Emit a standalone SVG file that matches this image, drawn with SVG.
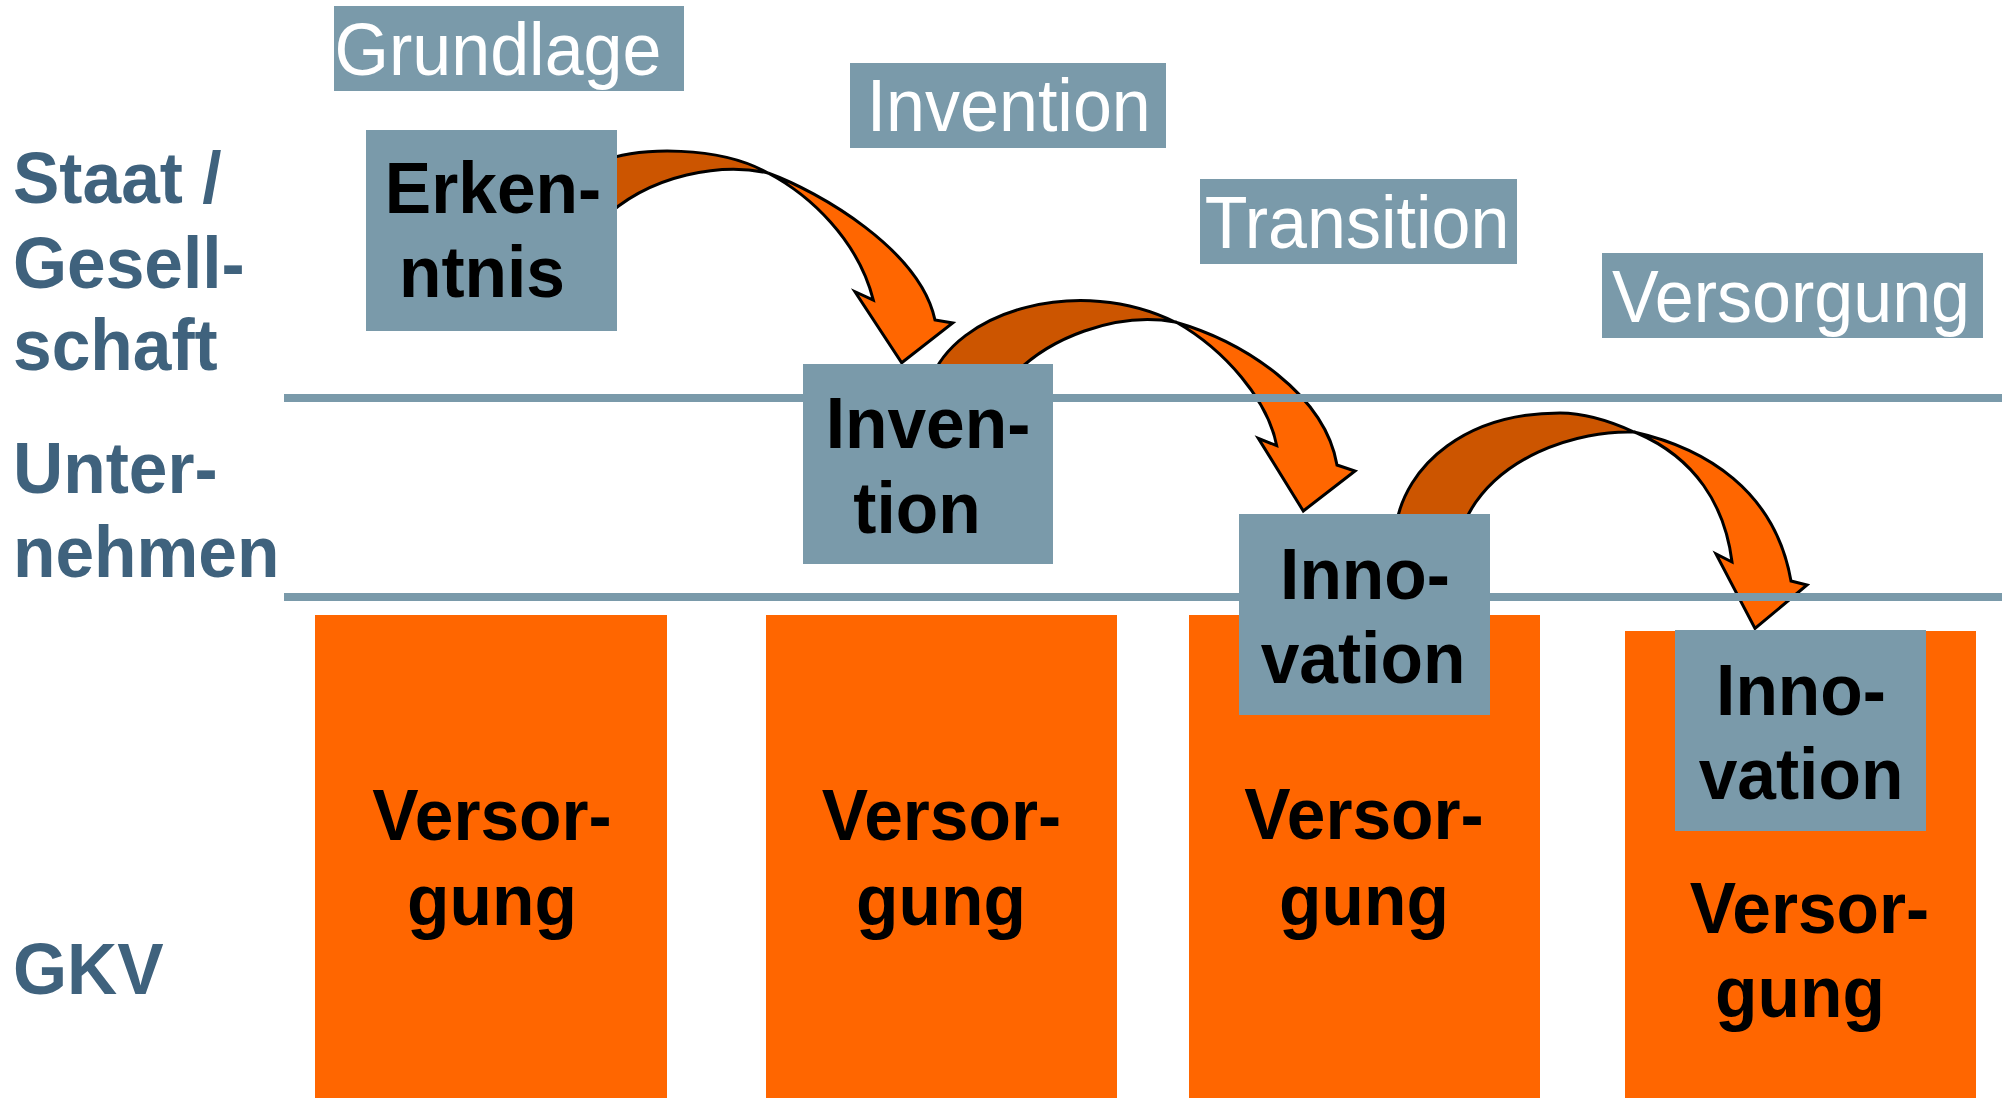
<svg xmlns="http://www.w3.org/2000/svg" width="2002" height="1098" viewBox="0 0 2002 1098">
  <style>
    .lane { font-family: "Liberation Sans", Arial, sans-serif; font-weight: bold; font-size: 69.5px; fill: #3F627D; }
    .phase { font-family: "Liberation Sans", Arial, sans-serif; font-size: 70px; fill: #FFFFFF; text-anchor: middle; }
    .term { font-family: "Liberation Sans", Arial, sans-serif; font-weight: bold; font-size: 69.5px; fill: #000000; text-anchor: middle; }
    .grey { fill: #7A9AAA; }
    .orange { fill: #FF6600; }
    .sep { fill: #7A9AAA; }
    .back { fill: #CC5500; stroke: #000000; stroke-width: 3; stroke-linejoin: miter; }
    .front { fill: #FF6600; stroke: #000000; stroke-width: 3; stroke-linejoin: miter; }
  </style>

  <rect x="0" y="0" width="2002" height="1098" fill="#FFFFFF"/>

  <!-- curved arrows between the stages (drawn first so boxes and lanes sit on top) -->
  <g id="connectors">
    <g id="arrow-erkenntnis-invention">
      <path class="back" d="M600,162 C640,146 720,146 768,173 C725,163 650,172 600,222 Z"/>
      <path class="front" d="M768,173 C820,192 920,250 935,320 L952.7,323 L901.7,362.7 L855,291.7 L873.3,300 C858,240 810,195 768,173 Z"/>
    </g>
    <g id="arrow-invention-innovation">
      <path class="back" d="M930,382 C955,310 1080,275 1175,322 C1120,312 1045,335 1005,385 Z"/>
      <path class="front" d="M1175,322 C1245,342 1325,395 1337,465 L1355,471 L1303.3,511 L1258.3,438.3 L1276.7,445.7 C1268,400 1225,350 1176,322 Z"/>
    </g>
    <g id="arrow-innovation-versorgung">
      <path class="back" d="M1395,530 C1405,462 1469,413 1560,413 C1585,413 1610,421 1634,432 C1580,430 1490,455 1461,530 Z"/>
      <path class="front" d="M1634,432 C1705,448 1775,490 1791,581 L1807,585 L1755,628.5 L1716,554 L1732,562 C1725,505 1695,458 1637,433 Z"/>
    </g>
  </g>

  <!-- lane separators -->
  <rect class="sep" x="284" y="394" width="1718" height="8"/>
  <rect class="sep" x="284" y="593" width="1718" height="8"/>

  <!-- lane titles -->
  <g id="lane-staat">
    <text class="lane" transform="translate(13,203) scale(1,1.05)">Staat /</text>
    <text class="lane" transform="translate(13,288) scale(1,1.05)">Gesell-</text>
    <text class="lane" transform="translate(13,370) scale(1,1.05)">schaft</text>
  </g>
  <g id="lane-unternehmen">
    <text class="lane" transform="translate(13,493) scale(1,1.05)">Unter-</text>
    <text class="lane" transform="translate(13,577) scale(1,1.05)">nehmen</text>
  </g>
  <g id="lane-gkv">
    <text class="lane" transform="translate(13,994) scale(1,1.05)">GKV</text>
  </g>

  <!-- phase headings -->
  <g id="phase-grundlage">
    <rect class="grey" x="334" y="6" width="350" height="85"/>
    <text class="phase" transform="translate(498,75) scale(1,1.05)">Grundlage</text>
  </g>
  <g id="phase-invention">
    <rect class="grey" x="850" y="63" width="316" height="85"/>
    <text class="phase" transform="translate(1008.7,131) scale(1,1.05)">Invention</text>
  </g>
  <g id="phase-transition">
    <rect class="grey" x="1200" y="179" width="317" height="85"/>
    <text class="phase" transform="translate(1357,247.7) scale(1,1.05)">Transition</text>
  </g>
  <g id="phase-versorgung">
    <rect class="grey" x="1602" y="253" width="381" height="85"/>
    <text class="phase" transform="translate(1791,321.7) scale(1,1.05)">Versorgung</text>
  </g>

  <!-- care columns (GKV lane) -->
  <g id="versorgung-1">
    <rect class="orange" x="315" y="615" width="352" height="483"/>
    <text class="term" transform="translate(492,839.7) scale(1,1.05)">Versor-</text>
    <text class="term" transform="translate(492,924.5) scale(1,1.05)">gung</text>
  </g>
  <g id="versorgung-2">
    <rect class="orange" x="766" y="615" width="351" height="483"/>
    <text class="term" transform="translate(941.4,840) scale(1,1.05)">Versor-</text>
    <text class="term" transform="translate(941,925) scale(1,1.05)">gung</text>
  </g>
  <g id="versorgung-3">
    <rect class="orange" x="1189" y="615" width="351" height="483"/>
    <text class="term" transform="translate(1364,839.3) scale(1,1.05)">Versor-</text>
    <text class="term" transform="translate(1364,925) scale(1,1.05)">gung</text>
  </g>
  <g id="versorgung-4">
    <rect class="orange" x="1625" y="631" width="351" height="467"/>
    <text class="term" transform="translate(1809.5,933.3) scale(1,1.05)">Versor-</text>
    <text class="term" transform="translate(1800,1017.3) scale(1,1.05)">gung</text>
  </g>

  <!-- stage boxes -->
  <g id="erkenntnis">
    <rect class="grey" x="366" y="130" width="251" height="201"/>
    <text class="term" transform="translate(493,213) scale(1,1.05)">Erken-</text>
    <text class="term" transform="translate(482,296.7) scale(1,1.05)">ntnis</text>
  </g>
  <g id="invention">
    <rect class="grey" x="803" y="364" width="250" height="200"/>
    <text class="term" transform="translate(928,448.3) scale(1,1.05)">Inven-</text>
    <text class="term" transform="translate(917,532.7) scale(1,1.05)">tion</text>
  </g>
  <g id="innovation-1">
    <rect class="grey" x="1239" y="514" width="251" height="201"/>
    <text class="term" transform="translate(1365,599) scale(1,1.05)">Inno-</text>
    <text class="term" transform="translate(1363,683.3) scale(1,1.05)">vation</text>
  </g>
  <g id="innovation-2">
    <rect class="grey" x="1675" y="630" width="251" height="201"/>
    <text class="term" transform="translate(1801,715) scale(1,1.05)">Inno-</text>
    <text class="term" transform="translate(1801,799.3) scale(1,1.05)">vation</text>
  </g>
</svg>
